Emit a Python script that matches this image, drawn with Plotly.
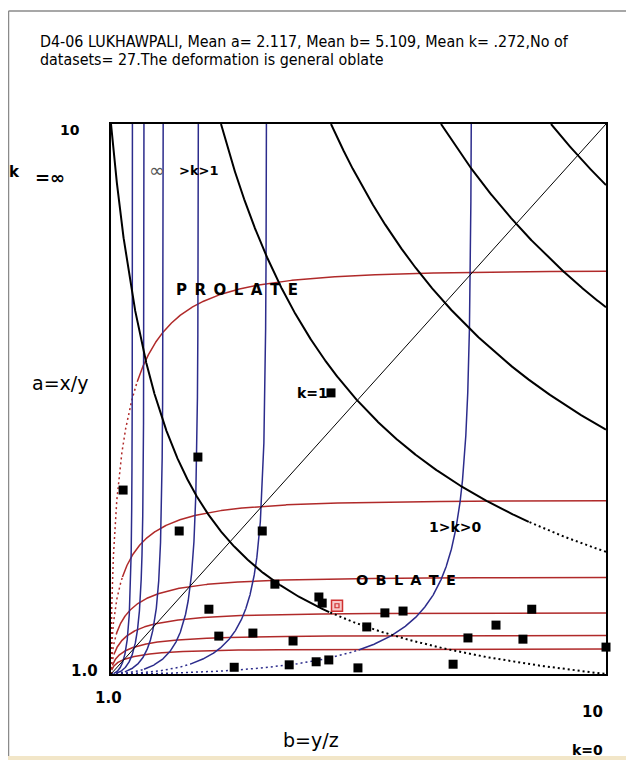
import numpy as np
import plotly.graph_objects as go

# ---------------- data ----------------
# individual datasets: b = y/z (x axis), a = x/y (y axis)
b_vals = [1.22, 2.58, 2.24, 3.75, 5.00, 3.98, 2.78, 2.96, 3.58, 3.24, 4.78, 4.84, 4.31,
          5.65, 5.98, 6.31, 4.24, 4.73, 4.96, 5.49, 7.49, 8.00, 8.65, 8.49, 10.0, 7.22]
a_vals = [4.01, 4.55, 3.34, 3.34, 5.60, 2.47, 2.06, 1.62, 1.67, 1.11, 2.26, 2.16, 1.54,
          1.77, 2.00, 2.03, 1.15, 1.20, 1.23, 1.10, 1.59, 1.80, 2.06, 1.57, 1.44, 1.16]
mean_b = [5.109]
mean_a = [2.117]

# template curves of the diagram
xz_products = [10, 30, 50, 70, 90]                 # black curves a*b = const
red_levels = [1.41, 1.63, 2.00, 2.58, 3.84, 7.60]  # horizontal asymptotes of red curves
blue_levels = [1.39, 1.60, 1.95, 2.59, 3.83, 7.56] # vertical asymptotes of blue curves
shape_s, shape_p = 0.30, 0.55                      # common shape of red/blue curves

title_1 = "D4-06 LUKHAWPALI, Mean a= 2.117, Mean b= 5.109, Mean k= .272,No of"
title_2 = "datasets= 27.The deformation is general oblate"

# ---------------- geometry helpers ----------------
OFF = 8                      # page body margin of the browser
W, H = 634 - OFF, 760 - OFF  # figure size
# plot area in screenshot pixels
L, R, T, B = 111, 606, 124, 674

def P(px, py):
    return (px - L) / (R - L), (B - py) / (B - T)

RED = "#b02a2a"
BLUE = "#2c2c8c"
X2PX = (R - L) / 9.0
Y2PX = (B - T) / 9.0

def g(x):
    return 1 - np.exp(-(np.maximum(x, 0) / shape_s) ** shape_p)

def gp(x):
    x = np.maximum(x, 1e-9)
    u = (x / shape_s) ** shape_p
    return shape_p / x * u * np.exp(-u)

fig = go.Figure()

def add_split(xs, ys, mask_dot, color, width, dotdash="2px,3px"):
    idx = np.where(~mask_dot)[0]
    if len(idx):
        i0 = max(idx[0] - 1, 0)
        fig.add_trace(go.Scatter(x=xs[i0:idx[-1] + 1], y=ys[i0:idx[-1] + 1], mode="lines",
                                 line=dict(color=color, width=width), hoverinfo="skip",
                                 showlegend=False))
    idd = np.where(mask_dot)[0]
    if len(idd):
        fig.add_trace(go.Scatter(x=xs[idd[0]:idd[-1] + 2], y=ys[idd[0]:idd[-1] + 2], mode="lines",
                                 line=dict(color=color, width=width, dash=dotdash),
                                 hoverinfo="skip", showlegend=False))

t = np.linspace(0, 1, 1500)
for A in red_levels:
    bb = 1 + 9 * t ** 2
    aa = 1 + (A - 1) * g(bb - 1)
    slope = (A - 1) * gp(bb - 1) * Y2PX / X2PX
    add_split(bb, aa, slope > 3.0, RED, 1.5)
for Bv in blue_levels:
    aa = 1 + 9 * t ** 2
    bb = 1 + (Bv - 1) * g(aa - 1)
    slope = (Bv - 1) * gp(aa - 1) * X2PX / Y2PX
    add_split(bb, aa, slope > 3.0, BLUE, 1.5)
for C in xz_products:
    aa = np.linspace(10, C / 10.0, 1200)
    bb = C / aa
    slope = C / bb ** 2 * Y2PX / X2PX
    add_split(bb, aa, slope < 0.45, "black", 2.0)
fig.add_trace(go.Scatter(x=[1, 10], y=[1, 10], mode="lines", line=dict(color="black", width=1),
                         hoverinfo="skip", showlegend=False))

fig.add_trace(go.Scatter(x=b_vals, y=a_vals, mode="markers", cliponaxis=False,
                         marker=dict(symbol="square", size=9, color="black"),
                         showlegend=False))
fig.add_trace(go.Scatter(x=mean_b, y=mean_a, mode="markers", cliponaxis=False,
                         marker=dict(symbol="square", size=11, color="#f6c8c8",
                                     line=dict(color="#d03030", width=1.5)),
                         showlegend=False))
fig.add_trace(go.Scatter(x=mean_b, y=mean_a, mode="markers", cliponaxis=False,
                         marker=dict(symbol="square-open", size=4, color="#d03030",
                                     line=dict(width=1.2)),
                         showlegend=False))

# ---------------- annotations ----------------
BOLD = "DejaVu Sans"
anns = []
def ann(text, px, py, size=14, bold=True, family=BOLD, xanchor="center", color="black"):
    x, y = P(px, py)
    anns.append(dict(text=text, x=x, y=y, xref="paper", yref="paper", showarrow=False,
                     xanchor=xanchor, yanchor="middle",
                     font=dict(family=family, size=size, color=color,
                               weight="bold" if bold else "normal")))

TF = "Liberation Sans Narrow, DejaVu Sans Condensed, Arial Narrow, Liberation Sans, sans-serif"
ann(title_1, 38, 41, size=15.9, bold=False, family=TF, xanchor="left")
ann(title_2, 38, 60, size=15.9, bold=False, family=TF, xanchor="left")
ann("10", 70, 130, 14)
ann("k", 14, 172, 15)
ann("=∞", 50, 178, 18)
ann("∞", 157, 170, 19, bold=False, color="#555")
ann(">k>1", 198, 170, 13)
ann("P\u2002R\u2002O\u2002L\u2002A\u2002T\u2002E", 237, 290, 15)
ann("a=x/y", 60, 383, 19, bold=False)
ann("k=1", 312, 393, 14)
ann("1>k>0", 455, 527, 14)
ann("O\u2002B\u2002L\u2002A\u2002T\u2002E", 406, 580, 14.5)
ann("1.0", 84, 671, 15)
ann("1.0", 108, 698, 15)
ann("10", 592, 712, 15)
ann("b=y/z", 311, 740, 19, bold=False)
ann("k=0", 587, 750, 14)

# window frame
fx0, fy0 = P(8.5, 760)
fx1, fy1 = P(8.5, 11)
fx2, _ = P(640, 11)
shapes = [
    dict(type="line", xref="paper", yref="paper", x0=fx0, y0=fy0, x1=fx1, y1=fy1,
         line=dict(color="#8a8a8a", width=1.5)),
    dict(type="line", xref="paper", yref="paper", x0=fx1, y0=fy1, x1=fx2, y1=fy1,
         line=dict(color="#8a8a8a", width=1.5)),
]
bx0, by0 = P(0, 760)
bx1, by1 = P(640, 756)
shapes.append(dict(type="rect", xref="paper", yref="paper", x0=bx0, y0=by0, x1=bx1, y1=by1,
                   line=dict(width=0), fillcolor="#f2e6c8"))

fig.update_layout(
    width=W, height=H,
    margin=dict(l=L - OFF, r=W - (R - OFF), t=T - OFF, b=H - (B - OFF), pad=0),
    paper_bgcolor="white", plot_bgcolor="white",
    xaxis=dict(range=[1, 10], showgrid=False, zeroline=False, showticklabels=False,
               ticks="", showline=True, mirror=True, linecolor="black", linewidth=1.5,
               fixedrange=True),
    yaxis=dict(range=[1, 10], showgrid=False, zeroline=False, showticklabels=False,
               ticks="", showline=True, mirror=True, linecolor="black", linewidth=1.5,
               fixedrange=True),
    annotations=anns, shapes=shapes, showlegend=False,
)
fig.write_html("out.html")
